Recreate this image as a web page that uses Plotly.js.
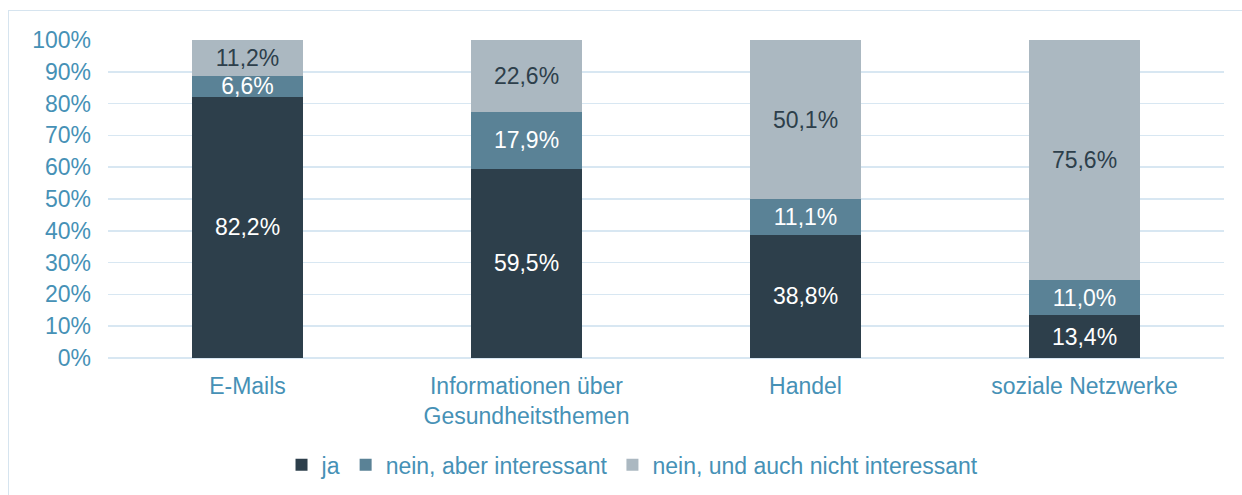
<!DOCTYPE html>
<html>
<head>
<meta charset="utf-8">
<script src="https://cdn.plot.ly/plotly-3.0.1.min.js"></script>
<style>
  html, body { margin: 0; padding: 0; background: #ffffff; overflow: hidden; }
  #wrap { position: relative; width: 1242px; height: 495px; }
  #frame { position: absolute; left: 8px; top: 10px; width: 1400px; height: 700px;
           border: 1.5px solid #d6e4ef; box-sizing: border-box; pointer-events: none; }
  #chart { position: absolute; left: 0; top: 0; width: 1242px; height: 495px; }
</style>
</head>
<body>
<div id="wrap">
  <div id="frame"></div>
  <div id="chart"></div>
</div>
<script>
// ---- data ----
const categories = ["E-Mails", "Informationen über<br>Gesundheitsthemen", "Handel", "soziale Netzwerke"];
const seriesNames = ["ja", "nein, aber interessant", "nein, und auch nicht interessant"];
const ja = [82.2, 59.5, 38.8, 13.4];
const neinAber = [6.6, 17.9, 11.1, 11.0];
const neinNicht = [11.2, 22.6, 50.1, 75.6];

const colors = ["#2d3f4b", "#5a8296", "#abb8c1"];
const labelColors = ["#ffffff", "#ffffff", "#2d3f4b"];
const FONT = "Liberation Sans, Arial, sans-serif";
const AXIS_COLOR = "#4691b6";

const values = [ja, neinAber, neinNicht];
const traces = values.map((v, i) => ({
  type: "bar",
  name: seriesNames[i],
  x: categories,
  y: v,
  marker: { color: colors[i] },
  texttemplate: "%{y:.1f}%",
  textposition: "inside",
  insidetextanchor: "middle",
  textangle: 0,
  textfont: { family: FONT, size: 23, color: labelColors[i] },
  hoverinfo: "skip"
}));

const layout = {
  width: 1242,
  height: 495,
  barmode: "stack",
  bargap: 0.6,
  separators: ",.",
  paper_bgcolor: "rgba(0,0,0,0)",
  plot_bgcolor: "rgba(0,0,0,0)",
  margin: { l: 108, r: 18, t: 40, b: 137, autoexpand: false },
  font: { family: FONT, size: 23, color: AXIS_COLOR },
  uniformtext: { minsize: 23, mode: "show" },
  xaxis: {
    type: "category",
    showgrid: false,
    showline: false,
    zeroline: false,
    ticks: "",
    ticklabelstandoff: 12,
    automargin: false,
    tickfont: { family: FONT, size: 23, color: AXIS_COLOR }
  },
  yaxis: {
    range: [0, 100],
    dtick: 10,
    ticksuffix: "%",
    showgrid: true,
    gridcolor: "#d8e7f2",
    gridwidth: 1.5,
    zeroline: true,
    zerolinecolor: "#d8e7f2",
    zerolinewidth: 1.5,
    showline: false,
    ticks: "",
    ticklabelstandoff: 16,
    automargin: false,
    tickfont: { family: FONT, size: 23, color: AXIS_COLOR }
  },
  showlegend: true,
  legend: {
    orientation: "h",
    traceorder: "normal",
    x: 0.47,
    xanchor: "center",
    y: -0.336,
    yanchor: "middle",
    font: { family: FONT, size: 23, color: AXIS_COLOR },
    bgcolor: "rgba(0,0,0,0)"
  }
};

Plotly.newPlot("chart", traces, layout, { displayModeBar: false, staticPlot: true });
</script>
</body>
</html>
